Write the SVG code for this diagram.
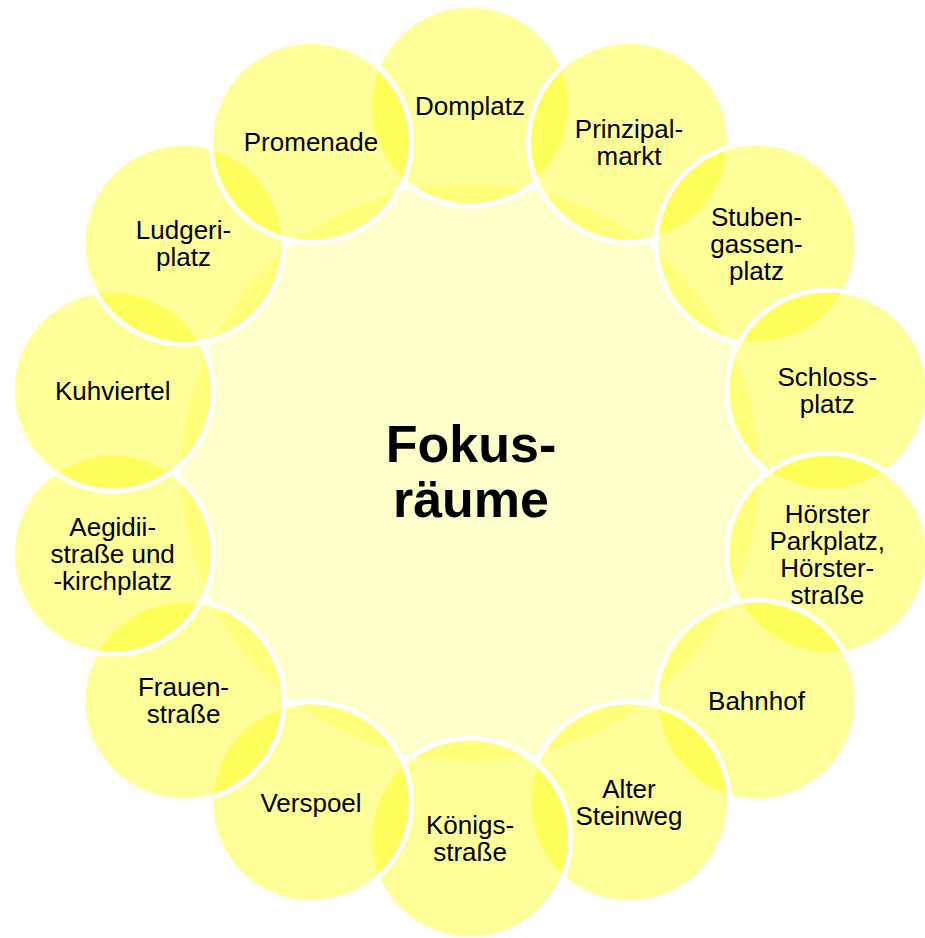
<svg xmlns="http://www.w3.org/2000/svg" width="925" height="938" viewBox="0 0 925 938">
<style>
.bg{fill:#FFFFFF}
.hub{fill:#FFFFCC}
.sat{fill:#FFFF00;fill-opacity:0.4;stroke:#FFFFFF;stroke-width:5}
.lbl{font-family:"Liberation Sans",Arial,sans-serif;font-size:26px;fill:#000000;text-anchor:middle}
.hubtxt{font-family:"Liberation Sans",Arial,sans-serif;font-size:52px;font-weight:bold;fill:#000000;text-anchor:middle}
</style>
<rect class="bg" x="0" y="0" width="925" height="938"/>
<g id="connectors"></g>
<g id="center">
<circle class="hub" cx="470" cy="472" r="289"/>
<text class="hubtxt"><tspan x="471" y="462">Fokus-</tspan><tspan x="471" y="517">räume</tspan></text>
</g>
<g id="n-domplatz">
<circle class="sat" cx="470" cy="105.5" r="100.5"/>
<text class="lbl"><tspan x="470" y="115">Domplatz</tspan></text>
</g>
<g id="n-prinzipalmarkt">
<circle class="sat" cx="629" cy="141.8" r="100.5"/>
<text class="lbl"><tspan x="629" y="137.7">Prinzipal-</tspan><tspan x="629" y="164.7">markt</tspan></text>
</g>
<g id="n-stubengassenplatz">
<circle class="sat" cx="756.5" cy="243.5" r="100.5"/>
<text class="lbl"><tspan x="756.5" y="225.9">Stuben-</tspan><tspan x="756.5" y="252.9">gassen-</tspan><tspan x="756.5" y="279.9">platz</tspan></text>
</g>
<g id="n-schlossplatz">
<circle class="sat" cx="827.3" cy="390.4" r="100.5"/>
<text class="lbl"><tspan x="827.3" y="386.3">Schloss-</tspan><tspan x="827.3" y="413.3">platz</tspan></text>
</g>
<g id="n-hoerster">
<circle class="sat" cx="827.3" cy="553.6" r="100.5"/>
<text class="lbl"><tspan x="827.3" y="522.5">Hörster</tspan><tspan x="827.3" y="549.5">Parkplatz,</tspan><tspan x="827.3" y="576.5">Hörster-</tspan><tspan x="827.3" y="603.5">straße</tspan></text>
</g>
<g id="n-bahnhof">
<circle class="sat" cx="756.5" cy="700.5" r="100.5"/>
<text class="lbl"><tspan x="756.5" y="709.9">Bahnhof</tspan></text>
</g>
<g id="n-altersteinweg">
<circle class="sat" cx="629" cy="802.2" r="100.5"/>
<text class="lbl"><tspan x="629" y="798.1">Alter</tspan><tspan x="629" y="825.1">Steinweg</tspan></text>
</g>
<g id="n-koenigsstrasse">
<circle class="sat" cx="470" cy="838.5" r="100.5"/>
<text class="lbl"><tspan x="470" y="834.4">Königs-</tspan><tspan x="470" y="861.4">straße</tspan></text>
</g>
<g id="n-verspoel">
<circle class="sat" cx="311" cy="802.2" r="100.5"/>
<text class="lbl"><tspan x="311" y="811.6">Verspoel</tspan></text>
</g>
<g id="n-frauenstrasse">
<circle class="sat" cx="183.5" cy="700.5" r="100.5"/>
<text class="lbl"><tspan x="183.5" y="696.4">Frauen-</tspan><tspan x="183.5" y="723.4">straße</tspan></text>
</g>
<g id="n-aegidii">
<circle class="sat" cx="112.7" cy="553.6" r="100.5"/>
<text class="lbl"><tspan x="112.7" y="536">Aegidii-</tspan><tspan x="112.7" y="563">straße und</tspan><tspan x="112.7" y="590">-kirchplatz</tspan></text>
</g>
<g id="n-kuhviertel">
<circle class="sat" cx="112.7" cy="390.4" r="100.5"/>
<text class="lbl"><tspan x="112.7" y="399.8">Kuhviertel</tspan></text>
</g>
<g id="n-ludgeriplatz">
<circle class="sat" cx="183.5" cy="243.5" r="100.5"/>
<text class="lbl"><tspan x="183.5" y="239.4">Ludgeri-</tspan><tspan x="183.5" y="266.4">platz</tspan></text>
</g>
<g id="n-promenade">
<circle class="sat" cx="311" cy="141.8" r="100.5"/>
<text class="lbl"><tspan x="311" y="151.2">Promenade</tspan></text>
</g>
</svg>
